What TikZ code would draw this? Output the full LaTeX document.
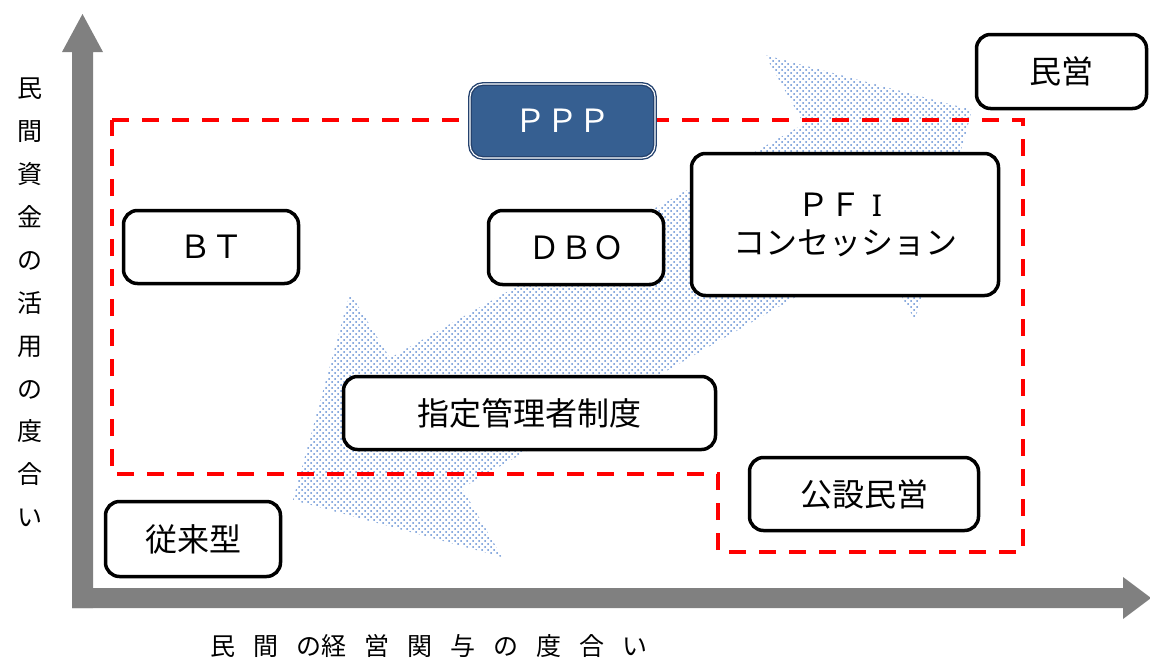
\documentclass[tikz,border=0pt]{standalone}
\usepackage{fontspec}
\newfontfamily\jp{Noto Sans CJK JP}
\newfontfamily\latinsans{Noto Sans}
\definecolor{axisgray}{RGB}{128,128,128}
\definecolor{dotblue}{RGB}{95,140,210}
\definecolor{pppfill}{RGB}{54,95,145}
\definecolor{pppedge}{RGB}{36,66,110}
\definecolor{dashred}{RGB}{255,0,0}
\begin{document}
\begin{tikzpicture}[x=1pt,y=-1pt,
  box/.style={draw=black, line width=3.5pt, rounded corners=14pt, fill=white,
    font=\jp\fontsize{32}{38}\selectfont, inner sep=0pt, align=center},
  pppbox/.style={draw=pppedge, double=white, double distance=1.1pt, line width=1.4pt,
    rounded corners=13pt, fill=pppfill, text=white,
    font=\jp\fontsize{32}{38}\selectfont, inner sep=0pt, align=center},
  redline/.style={draw=dashred, line width=3.5pt, dash pattern=on 17pt off 13pt},
  axisarrow/.style={fill=axisgray, draw=none},
  dotrow/.style={draw=dotblue, line width=2pt, line cap=round, dash pattern=on 0.01pt off 5.99pt},
  axislabel/.style={font=\jp\fontsize{25}{42.9}\selectfont, inner sep=0pt, align=center}
]
\useasboundingbox (0,0) rectangle (1150,662);

% large double-headed dotted arrow
\begin{scope}
  \clip (293,500) -- (350,293) -- (390,358) -- (804,124) -- (765,55)
    -- (972,110) -- (915,320) -- (876,251) -- (462,488) -- (502,557) -- cycle;
  \foreach \k in {0,...,85} {
    \draw[dotrow] (290,52+6*\k) -- (980,52+6*\k);
    \draw[dotrow] (293,55+6*\k) -- (980,55+6*\k);
  }
\end{scope}

% red dashed PPP region
\draw[redline] (112,120) -- (1023,120) -- (1023,552) -- (718,552) -- (718,474)
  -- (112,474) -- cycle;

% axes
\path[axisarrow] (72,608) -- (72,52) -- (62,52) -- (82.5,14) -- (103,52) -- (93,52)
  -- (93,608) -- cycle;
\path[axisarrow] (72,588) -- (1123,588) -- (1123,577) -- (1151,598) -- (1123,619)
  -- (1123,608) -- (72,608) -- cycle;

% boxes
\node[box, minimum width=170pt, minimum height=74pt] (minei) at (1061.5,71.5) {民営};
\node[pppbox, minimum width=185pt, minimum height=74pt] (ppp) at (562.5,121) {ＰＰＰ};
\node[box, minimum width=175pt, minimum height=73pt] (bt) at (211,247) {ＢＴ};
\node[box, minimum width=175pt, minimum height=74pt] (dbo) at (576,247.5) {ＤＢＯ};
\node[box, minimum width=307pt, minimum height=142pt] (pfi) at (845,224.5)
  {\raisebox{-4pt}{ＰＦ\makebox[32pt]{\latinsans\fontsize{30}{38}\selectfont I}}\\\raisebox{-4pt}{コンセッション}};
\node[box, minimum width=372pt, minimum height=73pt] (shitei) at (529.5,413) {指定管理者制度};
\node[box, minimum width=229pt, minimum height=73pt] (kosetsu) at (864,494) {公設民営};
\node[box, minimum width=175pt, minimum height=75pt] (juurai) at (193,539) {従来型};

% axis labels
\node[axislabel] (ylabel) at (30,302.5) {民\\間\\資\\金\\の\\活\\用\\の\\度\\合\\い};
\node[axislabel, anchor=west] (xlabel) at (210,646)
  {民\hspace{18pt}間\hspace{18pt}の経\hspace{18pt}営\hspace{18pt}関\hspace{18pt}与\hspace{18pt}の\hspace{18pt}度\hspace{18pt}合\hspace{18pt}い};
\end{tikzpicture}
\end{document}
